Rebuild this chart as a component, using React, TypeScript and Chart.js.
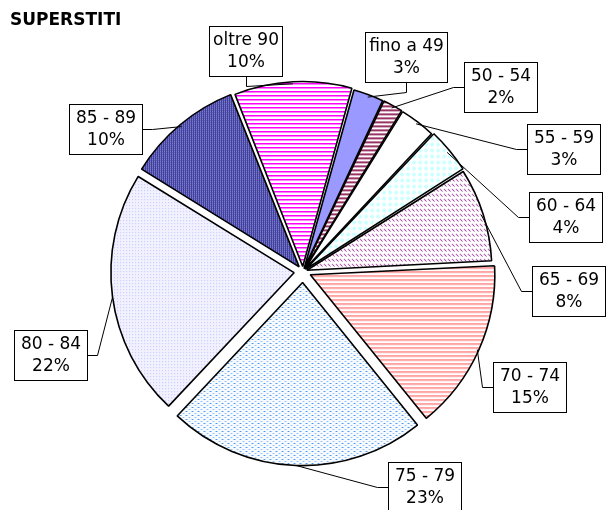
import { useEffect, useRef } from "react";
import { Chart, registerables } from "chart.js";

Chart.register(...registerables);

// ---- data ----
const categories = [
  "fino a 49",
  "50 - 54",
  "55 - 59",
  "60 - 64",
  "65 - 69",
  "70 - 74",
  "75 - 79",
  "80 - 84",
  "85 - 89",
  "oltre 90",
];
const shares = [2.7, 1.8, 3.2, 4.0, 8.2, 15.0, 22.8, 21.8, 10.2, 10.3];

// ---- layout / style (not data) ----
const explodePx = [3, 3, 3, 4, 4, 8, 11, 9, 6, 5];
// callout box centre: [angle clockwise from 12 o'clock (deg), distance in radii]
const calloutPlacement: [number, number][] = [
  [25.6, 1.297],
  [46.9, 1.475],
  [64.9, 1.572],
  [78.2, 1.466],
  [94.3, 1.455],
  [117.0, 1.389],
  [150.6, 1.352],
  [251.8, 1.455],
  [305.9, 1.329],
  [345.5, 1.247],
];
const FONT = '"DejaVu Sans", Verdana, sans-serif';

function makePattern(
  target: CanvasRenderingContext2D,
  w: number,
  h: number,
  paint: (c: CanvasRenderingContext2D) => void
): CanvasPattern | string {
  const cv = document.createElement("canvas");
  cv.width = w;
  cv.height = h;
  const c = cv.getContext("2d")!;
  c.fillStyle = "#ffffff";
  c.fillRect(0, 0, w, h);
  paint(c);
  return target.createPattern(cv, "repeat") || "#ffffff";
}

function px(c: CanvasRenderingContext2D, x: number, y: number, col: string) {
  c.fillStyle = col;
  c.fillRect(x, y, 1, 1);
}

function buildFills(ctx: CanvasRenderingContext2D) {
  return [
    "#9999FF",
    makePattern(ctx, 4, 4, (c) => {
      c.fillStyle = "#993366";
      c.fillRect(0, 0, 4, 2);
    }),
    "#FFFFFF",
    makePattern(ctx, 6, 6, (c) => {
      for (let y = 0; y < 6; y++)
        for (let x = 0; x < 6; x++)
          if (Math.abs(x - 2.5) + Math.abs(y - 2.5) <= 2.5) px(c, x, y, "#CCFFFF");
    }),
    makePattern(ctx, 4, 5, (c) => {
      px(c, 0, 0, "#993399");
      px(c, 1, 1, "#800080");
      px(c, 2, 2, "#B36BB3");
    }),
    makePattern(ctx, 1, 4, (c) => {
      px(c, 0, 0, "#FF8080");
      px(c, 0, 1, "#FFC0C0");
    }),
    makePattern(ctx, 6, 4, (c) => {
      c.fillStyle = "#F7FBFF";
      c.fillRect(0, 0, 6, 4);
      px(c, 0, 0, "#2F88EA");
      px(c, 1, 0, "#7DB6F2");
      px(c, 3, 2, "#7DB6F2");
      px(c, 4, 2, "#B5D6F8");
    }),
    makePattern(ctx, 3, 3, (c) => {
      c.fillStyle = "#F2F2FF";
      c.fillRect(0, 0, 3, 3);
      px(c, 0, 0, "#C0C0FF");
    }),
    makePattern(ctx, 2, 2, (c) => {
      c.fillStyle = "#000080";
      c.fillRect(0, 0, 2, 2);
      px(c, 0, 0, "#FFFFFF");
      px(c, 1, 1, "#6060C0");
    }),
    makePattern(ctx, 1, 4, (c) => {
      px(c, 0, 0, "#FF00FF");
      px(c, 0, 1, "#FF80FF");
    }),
  ];
}

const calloutPlugin = {
  id: "callouts",
  afterDatasetsDraw(chart: any) {
    const ctx: CanvasRenderingContext2D = chart.ctx;
    const meta = chart.getDatasetMeta(0);
    const values: number[] = chart.data.datasets[0].data;
    const total = values.reduce((a, b) => a + b, 0);
    ctx.save();
    ctx.font = `17px ${FONT}`;
    ctx.textAlign = "center";
    ctx.textBaseline = "middle";
    meta.data.forEach((arc: any, i: number) => {
      const { x, y, startAngle, endAngle, outerRadius } = arc.getProps(
        ["x", "y", "startAngle", "endAngle", "outerRadius"],
        true
      );
      const mid = (startAngle + endAngle) / 2;
      const t = explodePx[i];
      const ax = x + Math.cos(mid) * (outerRadius + t);
      const ay = y + Math.sin(mid) * (outerRadius + t);

      const [deg, dist] = calloutPlacement[i];
      const a = ((deg - 90) * Math.PI) / 180;
      const cx = x + Math.cos(a) * dist * outerRadius;
      const cy = y + Math.sin(a) * dist * outerRadius;

      const line1 = String(chart.data.labels[i]);
      const line2 = Math.round((values[i] / total) * 100) + "%";
      const tw = Math.max(ctx.measureText(line1).width, ctx.measureText(line2).width);
      const bw = Math.max(tw + 7, 73);
      const bh = 50;
      const left = Math.round(cx - bw / 2);
      const top = Math.round(cy - bh / 2);
      const right = left + Math.round(bw);
      const bottom = top + bh;

      // leader line
      ctx.strokeStyle = "#000";
      ctx.lineWidth = 1;
      ctx.beginPath();
      if (ax >= left - 20 && ax <= right + 20 && ay > bottom) {
        const sx = Math.round(cx) + 0.5;
        ctx.moveTo(sx, bottom);
        ctx.lineTo(sx, bottom + 10.5);
        ctx.lineTo(ax, ay);
      } else if (ax < left) {
        const sy = Math.round(cy) + 0.5;
        ctx.moveTo(left, sy);
        ctx.lineTo(left - 10.5, sy);
        ctx.lineTo(ax, ay);
      } else {
        const sy = Math.round(cy) + 0.5;
        ctx.moveTo(right, sy);
        ctx.lineTo(right + 10.5, sy);
        ctx.lineTo(ax, ay);
      }
      ctx.stroke();

      // box
      ctx.fillStyle = "#fff";
      ctx.fillRect(left, top, right - left, bh);
      ctx.strokeStyle = "#000";
      ctx.lineWidth = 1;
      ctx.strokeRect(left + 0.5, top + 0.5, right - left, bh);
      ctx.fillStyle = "#000";
      ctx.fillText(line1, (left + right) / 2 + 0.5, top + bh / 2 - 10.5);
      ctx.fillText(line2, (left + right) / 2 + 0.5, top + bh / 2 + 11.5);
    });
    ctx.restore();
  },
};

export default function App() {
  const ref = useRef<HTMLCanvasElement | null>(null);
  useEffect(() => {
    const canvas = ref.current;
    if (!canvas) return;
    const ctx = canvas.getContext("2d")!;
    const chart = new Chart(ctx, {
      type: "pie",
      data: {
        labels: categories,
        datasets: [
          {
            data: shares,
            backgroundColor: buildFills(ctx) as any,
            borderColor: "#000",
            borderWidth: 1.6,
            offset: explodePx.map((v) => v * 4),
            hoverOffset: 0,
            clip: false as any,
          },
        ],
      },
      options: {
        responsive: false,
        animation: false,
        rotation: 15.5,
        radius: 183,
        layout: { padding: { left: 10, right: 10, top: 0, bottom: 3 } },
        events: [],
        plugins: {
          legend: { display: false },
          tooltip: { enabled: false },
          title: {
            display: true,
            text: "SUPERSTITI",
            align: "start",
            color: "#000",
            font: { family: FONT, size: 17, weight: "bold" },
            padding: { top: 10, bottom: 5.6 },
          },
        },
      },
      plugins: [calloutPlugin],
    });
    return () => chart.destroy();
  }, []);
  return (
    <div style={{ position: "fixed", left: 0, top: 0, width: 606, height: 510, background: "#fff" }}>
      <canvas ref={ref} width={606} height={510} style={{ display: "block" }} />
    </div>
  );
}
